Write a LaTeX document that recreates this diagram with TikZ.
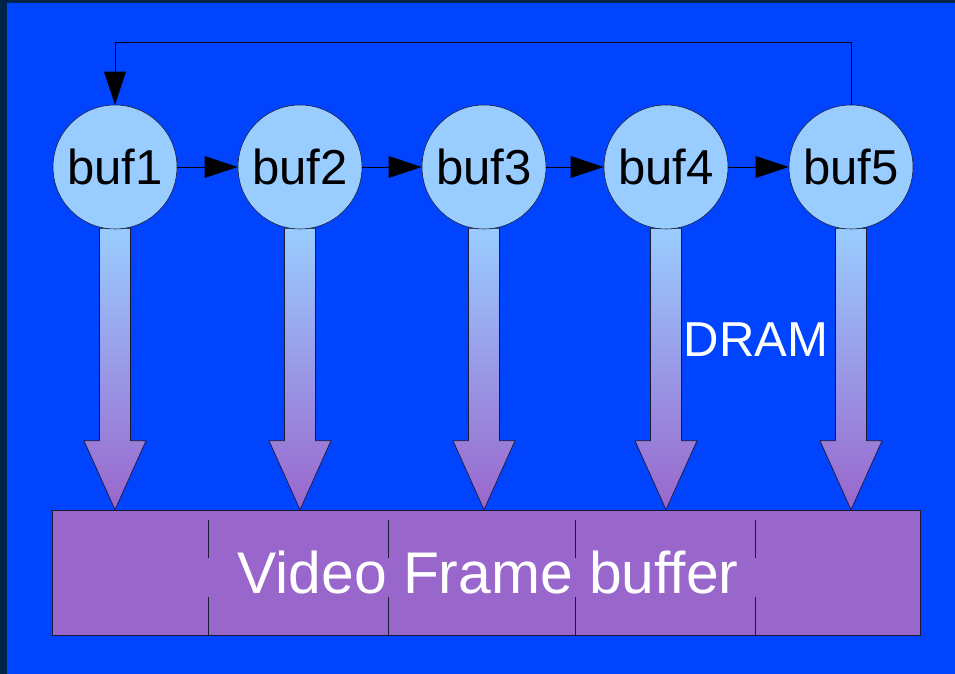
\documentclass[tikz,border=0pt]{standalone}
\usepackage{fontspec}
\setmainfont{Liberation Sans}
\usepackage{tikz}
\usetikzlibrary{arrows.meta,calc,backgrounds}

\definecolor{bgblue}{HTML}{0044FF}
\definecolor{edgeblue}{HTML}{002448}
\definecolor{bufblue}{HTML}{99CCFF}
\definecolor{framepurple}{HTML}{9966CC}
\definecolor{linec}{HTML}{1A1A33}

\begin{document}
\begin{tikzpicture}[x=0.025cm, y=-0.025cm,
		bufnode/.style={circle, draw=linec, fill=bufblue, minimum size=124*0.025cm, inner sep=0pt, font=\fontsize{34.9}{40}\selectfont},
		link/.style={draw=black, line width=0.6pt, -{Triangle[length=23.5pt, width=15.5pt]}},
		dnarrow/.style={draw=linec, line width=0.5pt, top color=bufblue, bottom color=framepurple}
	]
	\node[draw=linec, fill=framepurple, minimum width=868*0.025cm, minimum height=125*0.025cm, inner sep=0pt] (vfb) at (486,572.5) {};

	% the ring of buffers
	\node[bufnode] (buf1) at (115,167) {buf1};
	\node[bufnode] (buf2) at (300,167) {buf2};
	\node[bufnode] (buf3) at (484,167) {buf3};
	\node[bufnode] (buf4) at (666,167) {buf4};
	\node[bufnode] (buf5) at (851,167) {buf5};

	\begin{pgfonlayer}{background}
		% background with the dark edge
		\fill[edgeblue] (0,0) rectangle (955,674);
		\fill[bgblue] (7,3) rectangle (955,674);
		% block arrows down to the frame buffer
		\foreach \i in {1,...,5}{
			\coordinate (tip\i) at (buf\i |- vfb.north);
			\path[dnarrow] ($(buf\i.south)+(-15.5,-1)$) -- ($(tip\i)+(-15.5,-69)$) -- ($(tip\i)+(-31,-69)$) -- (tip\i)
				-- ($(tip\i)+(31,-69)$) -- ($(tip\i)+(15.5,-69)$) -- ($(buf\i.south)+(15.5,-1)$) -- cycle;
		}
	\end{pgfonlayer}
	\useasboundingbox (0,0) rectangle (955,674);

	\draw[link] (buf1) -- (buf2);
	\draw[link] (buf2) -- (buf3);
	\draw[link] (buf3) -- (buf4);
	\draw[link] (buf4) -- (buf5);
	\draw[link] (buf5.north) -- ++(0,-62) -| (buf1.north);

	% dividers of the frame buffer
	\foreach \x in {208,388,575,755}{
		\draw[linec, line width=0.6pt] (\x,520) -- (\x,558);
		\draw[linec, line width=0.6pt] (\x,597) -- (\x,635);
	}

	\node[text=white, font=\fontsize{41.8}{48}\selectfont] (vfbtext) at ($(vfb.center)+(2,0)$) {Video Frame buffer};
	\node[text=white, font=\fontsize{34.9}{40}\selectfont] (dram) at (756,340) {DRAM};
\end{tikzpicture}
\end{document}
